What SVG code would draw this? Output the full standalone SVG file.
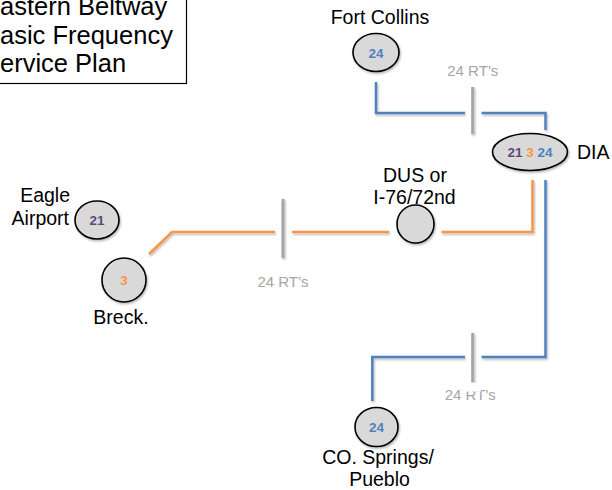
<svg xmlns="http://www.w3.org/2000/svg" width="612" height="490" viewBox="0 0 612 490">
<defs>
<filter id="sh" x="-20%" y="-20%" width="140%" height="140%">
<feDropShadow dx="1" dy="1.5" stdDeviation="0.8" flood-color="#000" flood-opacity="0.3"/>
</filter>
</defs>
<style>
.lbl{font-family:"Liberation Sans",Arial,sans-serif;font-size:19.5px;fill:#000}
.ttl{font-family:"Liberation Sans",Arial,sans-serif;font-size:25.5px;fill:#000}
.num{font-family:"Liberation Sans",Arial,sans-serif;font-size:13.5px;font-weight:bold;text-anchor:middle}
.rt{font-family:"Liberation Sans",Arial,sans-serif;font-size:15px;fill:#A6A6A6;text-anchor:middle}
.node{fill:#D9D9D9;stroke:#000;stroke-width:1.6}
.blue{fill:none;stroke:#4F81BD;stroke-width:2.5}
.orange{fill:none;stroke:#F79646;stroke-width:2.5}
.tick{stroke:#A6A6A6;stroke-width:3}
.p{fill:#604A7B}.o{fill:#F79646}.b{fill:#4F81BD}
</style>
<rect width="612" height="490" fill="#fff"/>

<g id="title">
<rect x="-20" y="-10" width="206.5" height="93.5" fill="#fff" stroke="#000" stroke-width="1.2"/>
<text class="ttl" x="-17" y="15">Eastern Beltway</text>
<text class="ttl" x="-17" y="44">Basic Frequency</text>
<text class="ttl" x="-17" y="72">Service Plan</text>
</g>

<g id="connectors" filter="url(#sh)">
<polyline class="blue" points="376,82 376,113 465,113"/>
<polyline class="blue" points="481.5,113 545.5,113 545.5,130"/>
<line class="tick" x1="472.7" y1="87" x2="472.7" y2="134"/>
<polyline class="blue" points="545.5,180 545.5,357 481.5,357"/>
<polyline class="blue" points="465,357 372.3,357 372.3,401"/>
<line class="tick" x1="472.7" y1="333" x2="472.7" y2="382"/>
<polyline class="orange" points="149,254 172,232 275,232"/>
<polyline class="orange" points="292,232 389,232"/>
<polyline class="orange" points="441.5,232 532.5,232 532.5,180"/>
<line class="tick" x1="283" y1="199" x2="283" y2="258"/>
</g>

<g id="rt-labels">
<text class="rt" x="472.8" y="76">24 RT’s</text>
<text class="rt" x="283" y="287">24 RT’s</text>
<text class="rt" x="470.3" y="400">24 RT’s</text>
<rect x="466" y="383" width="15" height="8.5" fill="#fff"/>
</g>

<g id="fort-collins">
<ellipse class="node" cx="376" cy="52.5" rx="23" ry="19" filter="url(#sh)"/>
<text class="num b" x="376" y="57.5">24</text>
<text class="lbl" x="380" y="24" text-anchor="middle">Fort Collins</text>
</g>

<g id="dia">
<ellipse class="node" cx="530" cy="152" rx="37.5" ry="18.5" filter="url(#sh)"/>
<text class="num" x="530" y="157"><tspan class="p">21</tspan> <tspan class="o">3</tspan> <tspan class="b">24</tspan></text>
<text class="lbl" x="577" y="159">DIA</text>
</g>

<g id="eagle">
<ellipse class="node" cx="97" cy="220" rx="22" ry="19" filter="url(#sh)"/>
<text class="num p" x="97" y="225">21</text>
<text class="lbl" x="70" y="202" text-anchor="end">Eagle</text>
<text class="lbl" x="69" y="225" text-anchor="end">Airport</text>
</g>

<g id="breck">
<ellipse class="node" cx="124" cy="280" rx="22" ry="22" filter="url(#sh)"/>
<text class="num o" x="124" y="285">3</text>
<text class="lbl" x="121" y="324" text-anchor="middle">Breck.</text>
</g>

<g id="dus">
<ellipse class="node" cx="415.5" cy="224" rx="18.5" ry="19" filter="url(#sh)"/>
<text class="lbl" x="415" y="182" text-anchor="middle">DUS or</text>
<text class="lbl" x="414.5" y="204" text-anchor="middle">I-76/72nd</text>
</g>

<g id="co-springs">
<ellipse class="node" cx="376.5" cy="427" rx="21.5" ry="19.5" filter="url(#sh)"/>
<text class="num b" x="376.5" y="432">24</text>
<text class="lbl" x="378" y="464" text-anchor="middle">CO. Springs/</text>
<text class="lbl" x="379.5" y="486" text-anchor="middle">Pueblo</text>
</g>
</svg>
